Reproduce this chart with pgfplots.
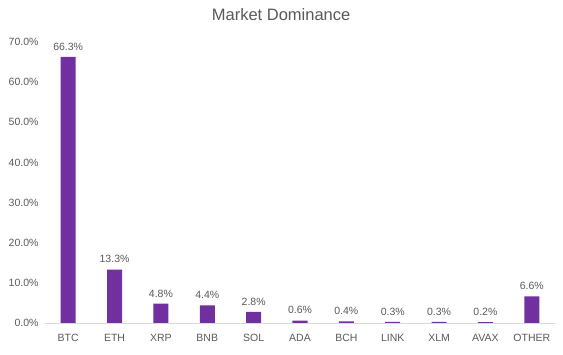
\documentclass[border=0pt]{standalone}
\usepackage{pgfplots}
\pgfplotsset{compat=1.18}
\usepackage{fontspec}
\setmainfont{Liberation Sans}
\definecolor{barc}{HTML}{7030A0}
\definecolor{txt}{HTML}{595959}
\definecolor{axc}{HTML}{D9D9D9}
\begin{document}
\begin{tikzpicture}
\useasboundingbox (-45pt,-32pt) rectangle (518pt,323pt);
\begin{axis}[
  scale only axis, width=510pt, height=281pt,
  anchor=south west, at={(0pt,0pt)},
  ymin=0, ymax=70, xmin=-0.5, xmax=10.5,
  ybar, bar width=15pt,
  axis x line*=bottom, axis y line*=left,
  x axis line style={draw=axc, line width=0.8pt, -},
  y axis line style={draw=none},
  xtick=data,
  xticklabels={BTC,ETH,XRP,BNB,SOL,ADA,BCH,LINK,XLM,AVAX,OTHER},
  ytick={0,10,...,70},
  yticklabel={\pgfmathprintnumber[fixed,fixed zerofill,precision=1,assume math mode=true]{\tick}\%},
  /pgf/number format/assume math mode=true,
  tick style={draw=none},
  ticklabel style={font=\fontsize{10.5}{12}\selectfont, text=txt},
  yticklabel style={xshift=-3pt},
  xticklabel style={yshift=-3pt},
  nodes near coords={\pgfmathprintnumber[fixed,fixed zerofill,precision=1,assume math mode=true]{\pgfplotspointmeta}\%},
  nodes near coords style={font=\fontsize{10.5}{12}\selectfont, text=txt, yshift=3pt},
  title={Market Dominance},
  title style={at={(rel axis cs:0.463,1.075)}, anchor=center, font=\fontsize{16.5}{19}\selectfont, text=txt},
]
\addplot[fill=barc, draw=none] coordinates {
(0,66.3) (1,13.3) (2,4.8) (3,4.4) (4,2.8) (5,0.6) (6,0.4) (7,0.3) (8,0.3) (9,0.2) (10,6.6)};
\end{axis}
\end{tikzpicture}
\end{document}
